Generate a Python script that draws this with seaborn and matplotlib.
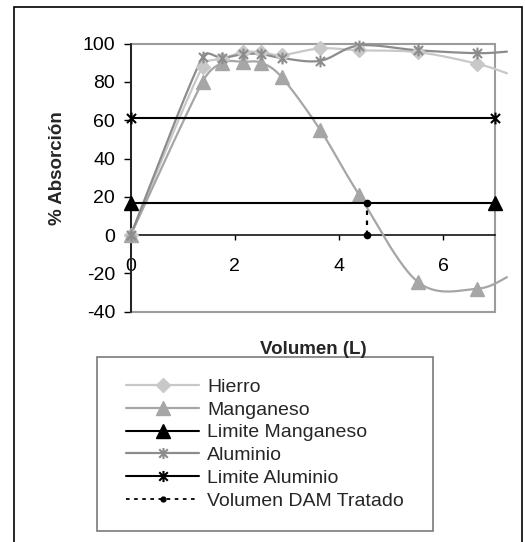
import numpy as np
import pandas as pd
import matplotlib
matplotlib.use("Agg")
import matplotlib.pyplot as plt
import seaborn as sns
from matplotlib.path import Path
from matplotlib.patches import Rectangle
from matplotlib.lines import Line2D

# ---- data -------------------------------------------------------------
volumen = [0.0, 1.38, 1.76, 2.16, 2.51, 2.90, 3.64, 4.39, 5.52, 6.65, 7.23]
hierro = [0, 88, 92, 95.5, 95.5, 94, 97.5, 96.5, 95.5, 89.5, 84.5]
manganeso = [0, 80, 90, 90.5, 90, 82.5, 55, 21, -24.5, -28, -22]
aluminio = [0, 93, 92.5, 94.5, 94.5, 92.5, 91, 99, 96.5, 95, 95.8]

limite_x = [0, 7]
limite_manganeso = [17, 17]
limite_aluminio = [61, 61]

dam_x = [4.54, 4.54]
dam_y = [0, 17]

xticks = [0, 2, 4, 6]
yticks = [-40, -20, 0, 20, 40, 60, 80, 100]

labels = ["Hierro", "Manganeso", "Limite Manganeso", "Aluminio",
          "Limite Aluminio", "Volumen DAM Tratado"]

# ---- style ------------------------------------------------------------
sns.set_theme(style="white")
plt.rcParams["font.family"] = ["Liberation Sans", "DejaVu Sans"]
plt.rcParams["axes.unicode_minus"] = False

c_fe = "#c8c8c8"
c_mn = "#a6a6a6"
c_al = "#8c8c8c"

star = Path([(-1, -1), (1, 1), (-1, 1), (1, -1), (0, -1.3), (0, 1.3)],
            [Path.MOVETO, Path.LINETO, Path.MOVETO, Path.LINETO,
             Path.MOVETO, Path.LINETO])

# approximate screen scale (px per data unit) used for the smoothing
SX, SY = 51.9, 1.907


def smooth(x, y, n=40, k=0.5):
    """Bezier smoothing through every point; handles are limited
    to a fraction of the segment they belong to (screen space)."""
    pts = np.column_stack([np.asarray(x) * SX, np.asarray(y) * SY])
    P = np.vstack([pts[0], pts, pts[-1]])
    t = np.linspace(0, 1, n)[:, None]
    out = []
    for i in range(1, len(P) - 2):
        p0, p1, p2, p3 = P[i - 1], P[i], P[i + 1], P[i + 2]
        seglen = np.hypot(*(p2 - p1))
        h1 = (p2 - p0) / 6
        h2 = (p3 - p1) / 6
        for h in (h1, h2):
            L = np.hypot(*h)
            if L > k * seglen and L > 0:
                h *= k * seglen / L
        b1 = p1 + h1
        b2 = p2 - h2
        seg = ((1 - t) ** 3 * p1 + 3 * (1 - t) ** 2 * t * b1
               + 3 * (1 - t) * t ** 2 * b2 + t ** 3 * p2)
        out.append(seg if i == 1 else seg[1:])
    arr = np.vstack(out)
    return pd.DataFrame({"x": arr[:, 0] / SX, "y": arr[:, 1] / SY})


W, H = 525, 542
fig = plt.figure(figsize=(W / 100, H / 100), dpi=100)
ax = fig.add_axes([130.7 / W, 1 - 311.7 / H, (495 - 130.7) / W,
                   (311.7 - 43.6) / H])


def draw_series(values, color, marker, ms):
    df = smooth(volumen, values)
    sns.lineplot(data=df, x="x", y="y", sort=False, estimator=None,
                 color=color, lw=1.6, ax=ax, zorder=3)
    ax.lines[-1].set_clip_on(False)
    if marker is star:
        ax.plot(volumen[:-1], values[:-1], ls="none", marker=star, ms=ms,
                mec=color, mfc="none", mew=1.5, zorder=4, clip_on=False)
    else:
        ax.plot(volumen[:-1], values[:-1], ls="none", marker=marker, ms=ms,
                mec=color, mfc=color, zorder=4, clip_on=False)


draw_series(hierro, c_fe, "D", 7.5)
draw_series(manganeso, c_mn, "^", 9.5)

# Manganese limit
sns.lineplot(x=limite_x, y=limite_manganeso, color="black", lw=1.5,
             ax=ax, zorder=5)
ax.plot(limite_x, limite_manganeso, ls="none", marker="^", ms=10,
        color="black", zorder=6, clip_on=False)

draw_series(aluminio, c_al, star, 8.5)

# Aluminium limit
sns.lineplot(x=limite_x, y=limite_aluminio, color="black", lw=1.5,
             ax=ax, zorder=5)
ax.plot(limite_x, limite_aluminio, ls="none", marker=star, ms=8.5,
        mec="black", mfc="none", mew=1.5, zorder=6, clip_on=False)

# Treated volume marker
ax.plot(dam_x, dam_y, color="black", lw=1.6, ls=(0, (2, 2.5)),
        marker="o", ms=4.5, zorder=7, clip_on=False)

# ---- axes -------------------------------------------------------------
ax.set_xlim(0, 7)
ax.set_ylim(-40, 100)
ax.set_xticks(xticks)
ax.set_yticks(yticks)
ax.set_xlabel("")
ax.set_ylabel("")

for s in ["top", "right"]:
    ax.spines[s].set_visible(False)
ax.spines["left"].set_color("black")
ax.spines["left"].set_linewidth(1.1)
ax.spines["bottom"].set_position(("data", 0))
ax.spines["bottom"].set_color("black")
ax.spines["bottom"].set_linewidth(1.1)
ax.spines["bottom"].set_zorder(2)

ax.add_patch(Rectangle((0, 0), 1, 1, transform=ax.transAxes, fill=False,
                       ec="#9c9c9c", lw=1.5, zorder=1, clip_on=False))

ax.tick_params(axis="x", direction="out", length=3.6, width=1.0,
               pad=13, labelsize=14, colors="black", bottom=True)
ax.tick_params(axis="y", direction="out", length=4.8, width=1.0,
               pad=6.5, labelsize=14, colors="black", left=True)
ax.grid(False)

fig.text(313 / W, 1 - 350 / H, "Volumen (L)", ha="center", va="center",
         fontsize=13.5, fontweight="bold")
fig.text(58 / W, 1 - 168 / H, "% Absorción", ha="center", va="center",
         rotation=90, fontsize=13.5, fontweight="bold")

# ---- legend -----------------------------------------------------------
handles = [
    Line2D([], [], color=c_fe, lw=1.6, marker="D", ms=7, mfc=c_fe, mec=c_fe),
    Line2D([], [], color=c_mn, lw=1.6, marker="^", ms=9.5, mfc=c_mn, mec=c_mn),
    Line2D([], [], color="black", lw=1.5, marker="^", ms=10),
    Line2D([], [], color=c_al, lw=1.6, marker=star, ms=8, mfc="none",
           mec=c_al, mew=1.5),
    Line2D([], [], color="black", lw=1.5, marker=star, ms=8, mfc="none",
           mec="black", mew=1.5),
    Line2D([], [], color="black", lw=1.3, ls=(0, (2, 2.5)), marker="o",
           ms=3.5),
]
fig.legend(handles, labels, loc="center",
           bbox_to_anchor=(265 / W, 1 - 444 / H), frameon=False,
           fontsize=14, handlelength=3.76, handletextpad=0.41,
           labelspacing=0.27, borderpad=0)
fig.add_artist(Rectangle((97 / W, 1 - 531 / H), (433 - 97) / W,
                         (531 - 357) / H, transform=fig.transFigure,
                         fill=False, ec="#7a7a7a", lw=1.2))

# outer chart frame
fig.add_artist(Rectangle((14 / W, -0.05), (522 - 14) / W, 1 - 7 / H + 0.05,
                         transform=fig.transFigure, fill=False,
                         ec="black", lw=1.2))

fig.savefig("out.png", dpi=100)
